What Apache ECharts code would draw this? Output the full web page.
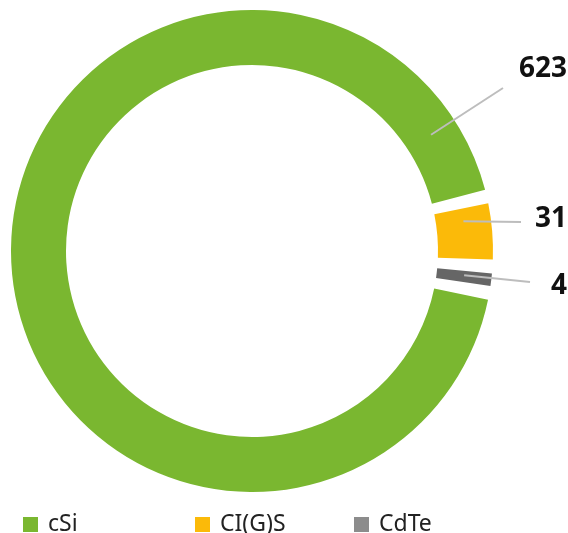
<!DOCTYPE html>
<html lang="en">
<head>
    <meta charset="UTF-8">
    <title>Module technology</title>
    <script src="https://cdn.jsdelivr.net/npm/echarts@6/dist/echarts.min.js"></script>
    <style>
        html, body { margin: 0; padding: 0; background: #fff; }
        #chart { width: 568px; height: 533px; }
    </style>
</head>
<body>
<div id="chart"></div>
<script type="text/javascript">
    // data
    var names = ['cSi', 'CI(G)S', 'CdTe'];
    var values = [623, 31, 4];
    var sliceColors = ['#7ab730', '#fbba09', '#666666'];
    var legendColors = ['#7ab730', '#fbba09', '#8c8c8c'];

    // ring geometry
    var cx = 252, cy = 251, rIn = 186, rOut = 241;
    // where each label line starts (degrees, counter-clockwise from 3 o'clock)
    var anchorDeg = [33, 8, -6.5];
    var lineEnd = [[503, 88], [521, 222], [530, 282]];
    var labelPos = [[567, 69], [567, 219], [567, 286]];

    var ringData = [];
    var labelData = [];
    for (var i = 0; i < names.length; i++) {
        ringData.push({ name: names[i], value: values[i], itemStyle: { color: sliceColors[i] } });
        labelData.push({ name: names[i], value: values[i] });
    }

    var legendLeft = [18, 190, 349];
    var legends = [];
    for (var j = 0; j < names.length; j++) {
        legends.push({
            left: legendLeft[j],
            top: 508,
            itemWidth: 15,
            itemHeight: 15,
            icon: 'rect',
            selectedMode: false,
            data: [{ name: names[j], itemStyle: { color: legendColors[j] } }],
            textStyle: { fontFamily: 'Noto Sans', fontSize: 23, color: '#222', padding: [0, 0, 0, 5] }
        });
    }

    var ringBase = {
        type: 'pie',
        center: [cx, cy],
        radius: [rIn, rOut],
        startAngle: 350,
        padAngle: 3.3,
        minAngle: 3,
        avoidLabelOverlap: false,
        emphasis: { scale: false, disabled: true }
    };

    var myChart = echarts.init(document.getElementById('chart'));
    var option = {
        animation: false,
        legend: legends,
        series: [
            echarts.util.extend({
                data: ringData,
                label: { show: false },
                labelLine: { show: false }
            }, ringBase),
            // transparent copy on top, only carries the value labels and their lines
            echarts.util.extend({
                z: 5,
                silent: true,
                data: labelData,
                itemStyle: { color: 'rgba(0,0,0,0)' },
                label: {
                    show: true,
                    position: 'outside',
                    formatter: '{c}',
                    fontFamily: 'Noto Sans',
                    fontWeight: 'bold',
                    fontSize: 28,
                    color: '#111'
                },
                labelLine: {
                    show: true,
                    length: 10,
                    length2: 10,
                    lineStyle: { color: '#bdbdbd', width: 2 }
                },
                labelLayout: function (p) {
                    var i = p.dataIndex;
                    var a = anchorDeg[i] * Math.PI / 180;
                    var rm = (rIn + rOut) / 2;
                    var ax = cx + rm * Math.cos(a);
                    var ay = cy - rm * Math.sin(a);
                    return {
                        x: labelPos[i][0],
                        y: labelPos[i][1],
                        align: 'right',
                        verticalAlign: 'middle',
                        labelLinePoints: [[ax, ay], lineEnd[i], lineEnd[i]]
                    };
                }
            }, ringBase)
        ]
    };
    myChart.setOption(option);
</script>
</body>
</html>
